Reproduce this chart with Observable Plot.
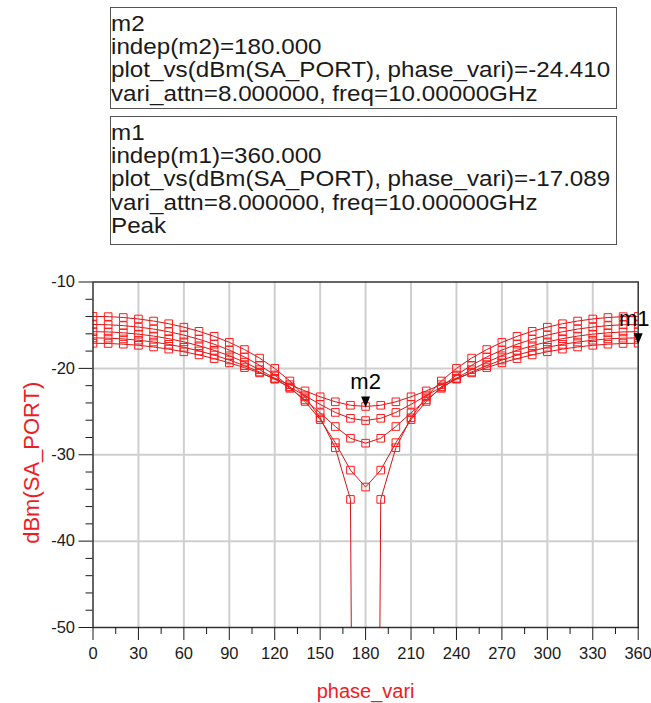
<!DOCTYPE html>
<html><head><meta charset="utf-8">
<script src="https://cdn.jsdelivr.net/npm/d3@7"></script>
<script src="https://cdn.jsdelivr.net/npm/@observablehq/plot@0.6"></script>
<style>
body{margin:0;background:#fff;}
#wrap{position:relative;width:651px;height:703px;overflow:hidden;font-family:"Liberation Sans",Arial,sans-serif;}
.box{position:absolute;left:110px;width:507px;border:1.5px solid #555;background:#fff;box-sizing:border-box;overflow:hidden;}
.box .t{transform:scaleX(1.1);transform-origin:0 0;font-size:22px;line-height:23.2px;white-space:pre;color:#1a1a1a;padding:4px 0 0 0;}
#chart{position:absolute;left:0;top:0;}
</style></head>
<body><div id="wrap"><div id="chart"></div></div>
<script>
// ---- data ----
const phase = [0,10,20,30,40,50,60,70,80,90,100,110,120,130,140,150,160,170,180,190,200,210,220,230,240,250,260,270,280,290,300,310,320,330,340,350,360];
const attn8 = [-17.09,-17.12,-17.20,-17.33,-17.52,-17.77,-18.08,-18.44,-18.87,-19.36,-19.91,-20.52,-21.19,-21.89,-22.61,-23.29,-23.87,-24.27,-24.41,-24.27,-23.87,-23.29,-22.61,-21.89,-21.19,-20.52,-19.91,-19.36,-18.87,-18.44,-18.08,-17.77,-17.52,-17.33,-17.20,-17.12,-17.09];
const attn6 = [-16.47,-16.50,-16.59,-16.74,-16.95,-17.22,-17.56,-17.98,-18.46,-19.03,-19.68,-20.42,-21.25,-22.17,-23.16,-24.17,-25.10,-25.78,-26.04,-25.78,-25.10,-24.17,-23.16,-22.17,-21.25,-20.42,-19.68,-19.03,-18.46,-17.98,-17.56,-17.22,-16.95,-16.74,-16.59,-16.50,-16.47];
const attn4 = [-15.75,-15.78,-15.88,-16.04,-16.26,-16.56,-16.93,-17.38,-17.91,-18.54,-19.28,-20.15,-21.15,-22.31,-23.65,-25.15,-26.73,-28.09,-28.66,-28.09,-26.73,-25.15,-23.65,-22.31,-21.15,-20.15,-19.28,-18.54,-17.91,-17.38,-16.93,-16.56,-16.26,-16.04,-15.88,-15.78,-15.75];
const attn2 = [-14.92,-14.95,-15.05,-15.22,-15.45,-15.76,-16.15,-16.63,-17.20,-17.88,-18.68,-19.64,-20.77,-22.15,-23.83,-25.93,-28.60,-31.78,-33.74,-31.78,-28.60,-25.93,-23.83,-22.15,-20.77,-19.64,-18.68,-17.88,-17.20,-16.63,-16.15,-15.76,-15.45,-15.22,-15.05,-14.95,-14.92];
const attn0 = [-13.98,-14.01,-14.11,-14.28,-14.52,-14.83,-15.23,-15.71,-16.29,-16.99,-17.82,-18.81,-20.00,-21.46,-23.30,-25.72,-29.19,-35.17,-300,-35.17,-29.19,-25.72,-23.30,-21.46,-20.00,-18.81,-17.82,-16.99,-16.29,-15.71,-15.23,-14.83,-14.52,-14.28,-14.11,-14.01,-13.98];
const seriesNames = ["8","6","4","2","0"];
const seriesValues = [attn8, attn6, attn4, attn2, attn0];

const xMajorTicks = [0,30,60,90,120,150,180,210,240,270,300,330,360];
const xMinorTicks = [15,45,75,105,135,165,195,225,255,285,315,345];
const xGridTicks = [30,60,90,120,150,180,210,240,270,300,330];
const yMajorTicks = [-10,-20,-30,-40,-50];
const yMinorTicks = [-12,-14,-16,-18,-22,-24,-26,-28,-32,-34,-36,-38,-42,-44,-46,-48];
const yGridTicks = [-20,-30,-40];

const markerNames = ["m2","m1"];
const markerPhase = [180,360];
const markerValue = [-24.410,-17.089];

const xTitle = "phase_vari";
const yTitle = "dBm(SA_PORT)";

const m2Lines = ["m2","indep(m2)=180.000","plot_vs(dBm(SA_PORT), phase_vari)=-24.410","vari_attn=8.000000, freq=10.00000GHz"];
const m1Lines = ["m1","indep(m1)=360.000","plot_vs(dBm(SA_PORT), phase_vari)=-17.089","vari_attn=8.000000, freq=10.00000GHz","Peak"];

// ---- build tables ----
const rows = [];
seriesValues.forEach((vals, s) => phase.forEach((p, i) => rows.push({phase: p, dbm: vals[i], attn: seriesNames[s]})));
const markers = markerNames.map((n, i) => ({name: n, phase: markerPhase[i], dbm: markerValue[i]}));

const downTri = {draw(ctx) { ctx.moveTo(0, 1); ctx.lineTo(-4.5, -10); ctx.lineTo(4.5, -10); ctx.closePath(); }};
const RED = "#ee1c24";

const chart = Plot.plot({
  width: 651, height: 703,
  marginLeft: 92.5, marginRight: 13.3, marginTop: 281.5, marginBottom: 76,
  style: {fontFamily: '"Liberation Sans", Arial, sans-serif', background: "transparent", color: "#1a1a1a", overflow: "visible"},
  x: {domain: [0, 360], label: null},
  y: {domain: [-50, -10], label: null},
  marks: [
    Plot.gridX(xGridTicks, {stroke: "#cfcfcf", strokeOpacity: 1, strokeWidth: 2}),
    Plot.gridY(yGridTicks, {stroke: "#cfcfcf", strokeOpacity: 1, strokeWidth: 2}),
    Plot.line(rows, {x: "phase", y: "dbm", z: "attn", stroke: "#d01515", strokeWidth: 1, clip: true}),
    Plot.dot(rows, {x: "phase", y: "dbm", symbol: "square", r: 4.3, stroke: "#ff1a1a", fill: "none", strokeWidth: 1, clip: true}),
    Plot.frame({stroke: "#333", strokeWidth: 1.5}),
    Plot.axisX(xMajorTicks, {tickSize: 13, tickPadding: 7, fontSize: 16.5, label: null, tickFormat: d => String(d)}),
    Plot.axisX(xMinorTicks, {tickSize: 7, label: null, tickFormat: () => ""}),
    Plot.axisY(yMajorTicks, {tickSize: 14, tickPadding: 4, fontSize: 16.5, label: null, tickFormat: d => String(d)}),
    Plot.axisY(yMinorTicks, {tickSize: 7, label: null, tickFormat: () => ""}),
    Plot.dot(markers, {x: "phase", y: "dbm", symbol: downTri, fill: "black", stroke: "none"}),
    Plot.text(markers, {x: "phase", y: "dbm", text: "name", dy: -24.7, fontSize: 22, fill: "black", textAnchor: "middle"}),
    Plot.text([xTitle], {frameAnchor: "bottom", textAnchor: "middle", lineAnchor: "middle", dy: 64, fontSize: 20, fill: RED}),
    Plot.text([yTitle], {frameAnchor: "left", textAnchor: "middle", lineAnchor: "middle", rotate: -90, dx: -61.5, dy: 8, fontSize: 22, fill: RED})
  ]
});
// keep the m1 label inside the page edge
chart.querySelectorAll("text").forEach(t => {
  if (t.textContent === "m1") {
    const tr = t.getAttribute("transform") || "";
    t.setAttribute("transform", tr + " translate(-4,0)");
  }
});
document.getElementById("chart").appendChild(chart);

function makeBox(lines, top, height) {
  const b = document.createElement("div");
  b.className = "box";
  b.style.top = top + "px";
  b.style.height = height + "px";
  const t = document.createElement("div");
  t.className = "t";
  t.textContent = lines.join("\n");
  b.appendChild(t);
  document.getElementById("wrap").appendChild(b);
}
makeBox(m2Lines, 7, 102);
makeBox(m1Lines, 116, 129);
</script>
</body></html>
